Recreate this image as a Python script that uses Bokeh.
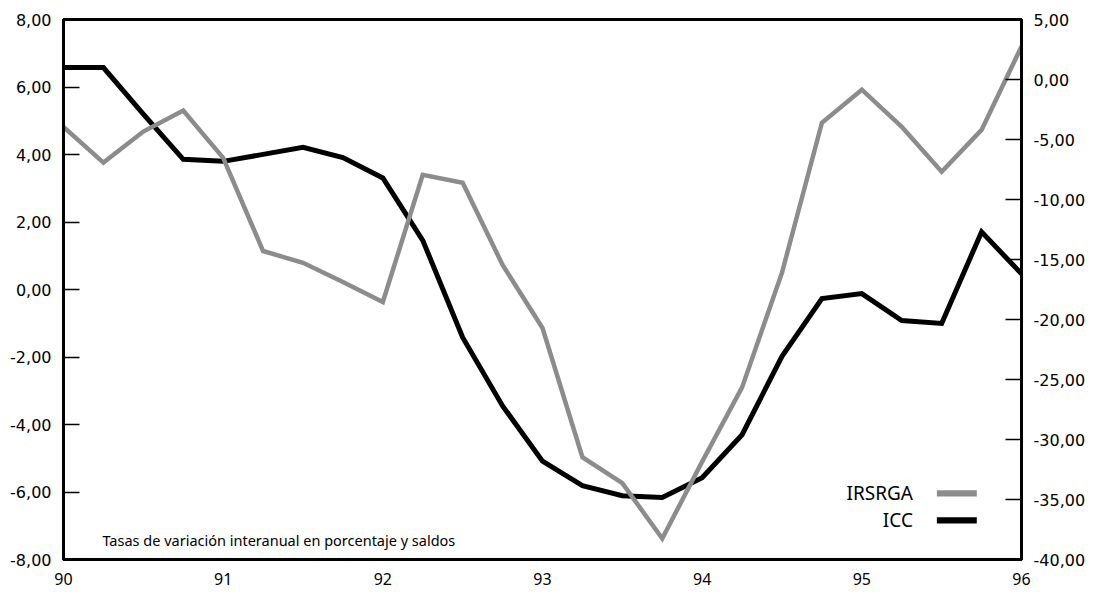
from bokeh.plotting import figure
from bokeh.models import Range1d, LinearAxis, FixedTicker, CustomJSTickFormatter, Label, BoxAnnotation, ColumnDataSource
from bokeh.embed import file_html
from bokeh.resources import INLINE

# Quarterly dates (year, short form)
quarters = [90.0, 90.25, 90.5, 90.75, 91.0, 91.25, 91.5, 91.75, 92.0, 92.25, 92.5, 92.75,
            93.0, 93.25, 93.5, 93.75, 94.0, 94.25, 94.5, 94.75, 95.0, 95.25, 95.5, 95.75, 96.0]

# IRSRGA (left axis, %)
irsrga = [4.82, 3.76, 4.68, 5.30, 3.90, 1.14, 0.79, 0.22, -0.37, 3.40, 3.16, 0.73,
          -1.14, -4.97, -5.74, -7.38, -5.10, -2.90, 0.50, 4.94, 5.92, 4.82, 3.49, 4.73, 7.20]

# ICC (right axis, saldos)
icc = [1.00, 1.00, -2.88, -6.65, -6.82, -6.24, -5.65, -6.50, -8.20, -13.40, -21.50, -27.20,
       -31.80, -33.85, -34.68, -34.84, -33.18, -29.60, -23.07, -18.26, -17.84, -20.08, -20.33, -12.70, -16.19]

year_ticks = [90, 91, 92, 93, 94, 95, 96]
left_ticks = [-8, -6, -4, -2, 0, 2, 4, 6, 8]
right_ticks = [-40, -35, -30, -25, -20, -15, -10, -5, 0, 5]

series_names = ["IRSRGA", "ICC"]
note_text = "Tasas de variación interanual en porcentaje y saldos"

FONT = "Noto Sans"
YFONT = "DejaVu Sans"
GREY = "#8c8c8c"
X0, X1 = 90, 96

p = figure(width=1090, height=590, output_backend="svg", toolbar_location=None,
           x_range=Range1d(X0, X1), y_range=Range1d(-8, 8),
           min_border_left=63, min_border_right=69, min_border_top=19, min_border_bottom=31)
p.extra_y_ranges = {"icc": Range1d(-40, 5)}

p.xgrid.visible = False
p.ygrid.visible = False
p.outline_line_color = "black"
p.outline_line_width = 3
p.background_fill_color = "white"
p.border_fill_color = "white"

fmt2 = CustomJSTickFormatter(code="return tick.toFixed(2).replace('.', ',');")
fmt0 = CustomJSTickFormatter(code="return tick.toFixed(0);")

# x axis
xa = p.xaxis[0]
xa.ticker = FixedTicker(ticks=year_ticks)
xa.formatter = fmt0
xa.major_tick_in = 0
xa.major_tick_out = 0
xa.minor_tick_line_color = None
xa.axis_line_width = 3
xa.axis_line_color = "black"
xa.major_label_text_font = FONT
xa.major_label_text_font_size = "16px"
xa.major_label_text_color = "black"
xa.major_label_standoff = 13

# left axis
ya = p.yaxis[0]
ya.ticker = FixedTicker(ticks=left_ticks)
ya.formatter = fmt2
ya.major_tick_in = 16
ya.major_tick_out = 0
ya.major_tick_line_width = 1.5
ya.major_tick_line_color = "black"
ya.minor_tick_line_color = None
ya.axis_line_width = 3
ya.axis_line_color = "black"
ya.major_label_text_font = YFONT
ya.major_label_text_font_size = "16px"
ya.major_label_text_color = "black"
ya.major_label_standoff = 12

# right axis
ra = LinearAxis(y_range_name="icc", ticker=FixedTicker(ticks=right_ticks), formatter=fmt2)
ra.major_tick_in = 16
ra.major_tick_out = 0
ra.major_tick_line_width = 1.5
ra.major_tick_line_color = "black"
ra.minor_tick_line_color = None
ra.axis_line_width = 3
ra.axis_line_color = "black"
ra.major_label_text_font = YFONT
ra.major_label_text_font_size = "16px"
ra.major_label_text_color = "black"
ra.major_label_standoff = 12
p.add_layout(ra, "right")

# series
p.line(quarters, icc, y_range_name="icc", line_color="black", line_width=5, line_join="miter")
p.line(quarters, irsrga, line_color=GREY, line_width=4.5, line_join="miter")

# manual legend (label left of key)
legend_colors = [GREY, "black"]
legend_y = [-6.04, -6.84]
for name, col, ly in zip(series_names, legend_colors, legend_y):
    p.add_layout(Label(x=95.32, y=ly, text=name, text_align="right", text_baseline="middle",
                       text_font=FONT, text_font_size="19px", text_color="black"))
    p.add_layout(BoxAnnotation(left=95.47, right=95.72, bottom=ly - 0.09, top=ly + 0.09,
                               fill_color=col, fill_alpha=1.0, line_alpha=0))

p.add_layout(Label(x=90.244, y=-7.41, text=note_text, text_baseline="middle",
                   text_font=FONT, text_font_size="14.5px", text_color="black"))

open("out.html", "w").write(file_html(p, INLINE))
